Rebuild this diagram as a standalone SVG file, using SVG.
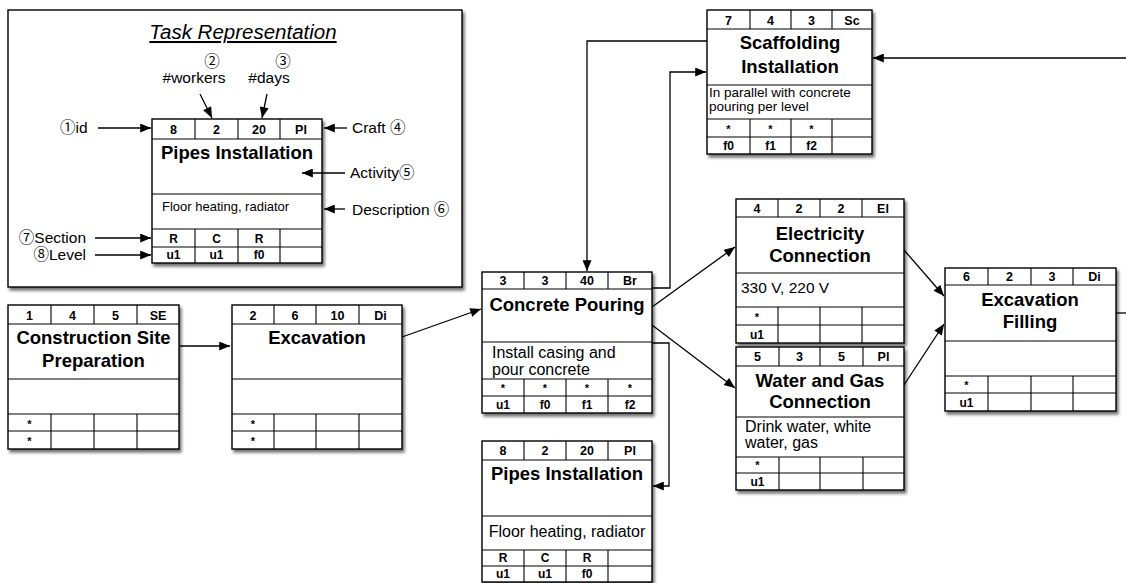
<svg xmlns="http://www.w3.org/2000/svg" width="1126" height="583" viewBox="0 0 1126 583">
<defs>
<filter id="sh" x="-10%" y="-10%" width="125%" height="125%">
<feDropShadow dx="2" dy="3" stdDeviation="1.8" flood-color="#000" flood-opacity="0.55"/>
</filter>
<marker id="ah" viewBox="0 0 12 10" refX="12" refY="5" markerWidth="12" markerHeight="9" markerUnits="userSpaceOnUse" orient="auto">
<path d="M0,0 L12,5 L0,10 z" fill="#000"/>
</marker>
<style>
text{font-family:"Liberation Sans",Arial,"Noto Sans CJK JP",sans-serif;fill:#000}
.box{fill:#fff;stroke:#000;stroke-width:1.4;filter:url(#sh)}
.grid{fill:none;stroke:#000;stroke-width:1.1}
.hd{font-size:12.5px;font-weight:bold;text-anchor:middle}
.tt{font-size:18.5px;font-weight:bold;text-anchor:middle}
.ds{font-size:16px}
.cl{font-size:12px;font-weight:bold;text-anchor:middle}
.st{font-size:11px;font-weight:bold;text-anchor:middle}
.lb{font-size:15.5px}
.cn{fill:none;stroke:#000;stroke-width:1.3;marker-end:url(#ah)}
.cp{fill:none;stroke:#000;stroke-width:1.3}
</style>
</defs>
<rect width="1126" height="583" fill="#fff"/>

<g id="legend">
<rect class="box" x="8" y="10" width="454" height="277"/>
<text x="243" y="39" font-size="20.5" font-style="italic" text-anchor="middle" text-decoration="underline">Task Representation</text>
<text class="lb" x="212" y="67" text-anchor="middle">②</text>
<text class="lb" x="283" y="67" text-anchor="middle">③</text>
<text class="lb" x="194" y="83" text-anchor="middle">#workers</text>
<text class="lb" x="269" y="83" text-anchor="middle">#days</text>
<text class="lb" x="60" y="133">①id</text>
<text class="lb" x="352" y="133">Craft ④</text>
<text class="lb" x="350" y="178">Activity⑤</text>
<text class="lb" x="352" y="215">Description ⑥</text>
<text class="lb" x="86" y="243" text-anchor="end">⑦Section</text>
<text class="lb" x="86" y="260" text-anchor="end">⑧Level</text>
<g id="legend-node">
<rect class="box" x="152" y="119" width="170" height="144"/>
<path class="grid" d="M152,139H322 M152,194H322 M152,229H322 M152,247H322 M195,119V139 M238,119V139 M280,119V139 M195,229V263 M238,229V263 M280,229V263"/>
<text class="hd" x="173.5" y="134">8</text>
<text class="hd" x="216.5" y="134">2</text>
<text class="hd" x="259" y="134">20</text>
<text class="hd" x="301" y="134">Pl</text>
<text class="tt" x="237" y="159" font-size="18">Pipes Installation</text>
<text x="162" y="211" font-size="13">Floor heating, radiator</text>
<text class="cl" x="173.5" y="243">R</text>
<text class="cl" x="216.5" y="243">C</text>
<text class="cl" x="259" y="243">R</text>
<text class="cl" x="173.5" y="259">u1</text>
<text class="cl" x="216.5" y="259">u1</text>
<text class="cl" x="259" y="259">f0</text>
</g>
<g id="legend-arrows">
<path class="cn" d="M98,128H151"/>
<path class="cn" d="M347,128H324"/>
<path class="cn" d="M345,173H302"/>
<path class="cn" d="M345,209H324"/>
<path class="cn" d="M95,238H151"/>
<path class="cn" d="M95,255H151"/>
<path class="cn" d="M200,94L212,118"/>
<path class="cn" d="M267,94L262,118"/>
</g>
</g>

<g id="connectors">
<path class="cn" d="M180,346H230"/>
<path class="cn" d="M402,337L481,309"/>
<path class="cn" d="M707,41H587V271"/>
<path class="cn" d="M652,288H670V72H706"/>
<path class="cn" d="M652,343H669V486H653"/>
<path class="cn" d="M652,307L735,247"/>
<path class="cn" d="M652,325L735,388"/>
<path class="cn" d="M904,250L944,296"/>
<path class="cn" d="M904,385L944,324"/>
<path class="cn" d="M1126,58H873"/>
<path class="cp" d="M1116,313H1126"/>
</g>

<g id="n-construction">
<rect class="box" x="8" y="305" width="171" height="144"/>
<path class="grid" d="M8,324H179 M8,379H179 M8,414H179 M8,431H179 M51,305V324 M94,305V324 M137,305V324 M51,414V449 M94,414V449 M137,414V449"/>
<text class="hd" x="29.5" y="320">1</text>
<text class="hd" x="72.5" y="320">4</text>
<text class="hd" x="115.5" y="320">5</text>
<text class="hd" x="158" y="320">SE</text>
<text class="tt" x="93.5" y="344">Construction Site</text>
<text class="tt" x="93.5" y="367">Preparation</text>
<text class="st" x="29.5" y="427.5">*</text>
<text class="st" x="29.5" y="445">*</text>
</g>

<g id="n-excavation">
<rect class="box" x="232" y="305" width="170" height="144"/>
<path class="grid" d="M232,324H402 M232,379H402 M232,414H402 M232,431H402 M274,305V324 M316,305V324 M359,305V324 M274,414V449 M316,414V449 M359,414V449"/>
<text class="hd" x="253" y="320">2</text>
<text class="hd" x="295" y="320">6</text>
<text class="hd" x="337.5" y="320">10</text>
<text class="hd" x="380.5" y="320">Di</text>
<text class="tt" x="317" y="344">Excavation</text>
<text class="st" x="253" y="427.5">*</text>
<text class="st" x="253" y="445">*</text>
</g>

<g id="n-concrete">
<rect class="box" x="482" y="272" width="170" height="141"/>
<path class="grid" d="M482,289H652 M482,342H652 M482,379H652 M482,396H652 M524,272V289 M566,272V289 M608,272V289 M524,379V413 M566,379V413 M608,379V413"/>
<text class="hd" x="503" y="285">3</text>
<text class="hd" x="545" y="285">3</text>
<text class="hd" x="587" y="285">40</text>
<text class="hd" x="630" y="285">Br</text>
<text class="tt" x="567" y="311">Concrete Pouring</text>
<text class="ds" x="492" y="358">Install casing and</text>
<text class="ds" x="492" y="375">pour concrete</text>
<text class="st" x="503" y="392">*</text>
<text class="st" x="545" y="392">*</text>
<text class="st" x="587" y="392">*</text>
<text class="st" x="630" y="392">*</text>
<text class="cl" x="503" y="409">u1</text>
<text class="cl" x="545" y="409">f0</text>
<text class="cl" x="587" y="409">f1</text>
<text class="cl" x="630" y="409">f2</text>
</g>

<g id="n-pipes">
<rect class="box" x="482" y="441" width="170" height="141"/>
<path class="grid" d="M482,460H652 M482,516H652 M482,550H652 M482,566H652 M524,441V460 M566,441V460 M608,441V460 M524,550V582 M566,550V582 M608,550V582"/>
<text class="hd" x="503" y="455">8</text>
<text class="hd" x="545" y="455">2</text>
<text class="hd" x="587" y="455">20</text>
<text class="hd" x="630" y="455">Pl</text>
<text class="tt" x="567" y="480">Pipes Installation</text>
<text class="ds" x="567" y="537" text-anchor="middle">Floor heating, radiator</text>
<text class="cl" x="503" y="562">R</text>
<text class="cl" x="545" y="562">C</text>
<text class="cl" x="587" y="562">R</text>
<text class="cl" x="503" y="578">u1</text>
<text class="cl" x="545" y="578">u1</text>
<text class="cl" x="587" y="578">f0</text>
</g>

<g id="n-scaffolding">
<rect class="box" x="707" y="10" width="165" height="144"/>
<path class="grid" d="M707,29H872 M707,85H872 M707,119H872 M707,137H872 M750,10V29 M791,10V29 M832,10V29 M750,119V154 M791,119V154 M832,119V154"/>
<text class="hd" x="728.5" y="25">7</text>
<text class="hd" x="770.5" y="25">4</text>
<text class="hd" x="811.5" y="25">3</text>
<text class="hd" x="852" y="25">Sc</text>
<text class="tt" x="790" y="49">Scaffolding</text>
<text class="tt" x="790" y="73">Installation</text>
<text x="709" y="97" font-size="13.5">In parallel with concrete</text>
<text x="709" y="111" font-size="13.5">pouring per level</text>
<text class="st" x="728.5" y="133">*</text>
<text class="st" x="770.5" y="133">*</text>
<text class="st" x="811.5" y="133">*</text>
<text class="cl" x="728.5" y="150">f0</text>
<text class="cl" x="770.5" y="150">f1</text>
<text class="cl" x="811.5" y="150">f2</text>
</g>

<g id="n-electricity">
<rect class="box" x="736" y="199" width="168" height="144"/>
<path class="grid" d="M736,217H904 M736,273H904 M736,307H904 M736,325H904 M778,199V217 M820,199V217 M862,199V217 M778,307V343 M820,307V343 M862,307V343"/>
<text class="hd" x="757" y="213">4</text>
<text class="hd" x="799" y="213">2</text>
<text class="hd" x="841" y="213">2</text>
<text class="hd" x="883" y="213">El</text>
<text class="tt" x="820" y="240">Electricity</text>
<text class="tt" x="820" y="262">Connection</text>
<text x="741" y="293" font-size="15.5">330 V, 220 V</text>
<text class="st" x="757" y="321">*</text>
<text class="cl" x="757" y="339">u1</text>
</g>

<g id="n-water">
<rect class="box" x="736" y="347" width="168" height="143"/>
<path class="grid" d="M736,366H904 M736,417H904 M736,457H904 M736,473H904 M779,347V366 M820,347V366 M863,347V366 M779,457V490 M820,457V490 M863,457V490"/>
<text class="hd" x="757.5" y="361">5</text>
<text class="hd" x="799.5" y="361">3</text>
<text class="hd" x="841.5" y="361">5</text>
<text class="hd" x="883.5" y="361">Pl</text>
<text class="tt" x="820" y="387">Water and Gas</text>
<text class="tt" x="820" y="408">Connection</text>
<text class="ds" x="745" y="432">Drink water, white</text>
<text class="ds" x="745" y="448">water, gas</text>
<text class="st" x="757.5" y="469">*</text>
<text class="cl" x="757.5" y="486">u1</text>
</g>

<g id="n-filling">
<rect class="box" x="945" y="268" width="171" height="143"/>
<path class="grid" d="M945,285H1116 M945,341H1116 M945,376H1116 M945,393H1116 M988,268V285 M1031,268V285 M1073,268V285 M988,376V411 M1031,376V411 M1073,376V411"/>
<text class="hd" x="966.5" y="281">6</text>
<text class="hd" x="1009.5" y="281">2</text>
<text class="hd" x="1052" y="281">3</text>
<text class="hd" x="1094.5" y="281">Di</text>
<text class="tt" x="1030" y="306">Excavation</text>
<text class="tt" x="1030" y="328">Filling</text>
<text class="st" x="966.5" y="389">*</text>
<text class="cl" x="966.5" y="407">u1</text>
</g>
</svg>
